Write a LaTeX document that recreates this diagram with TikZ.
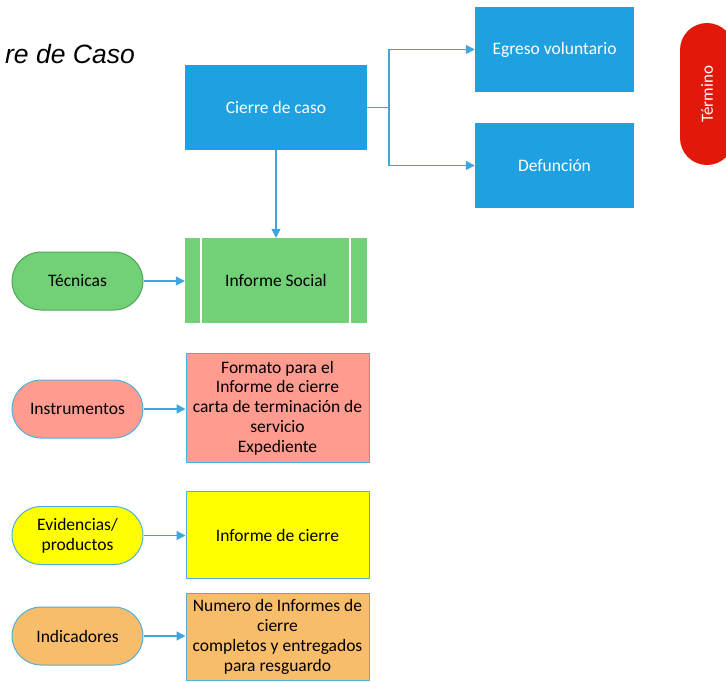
\documentclass[tikz,border=0pt]{standalone}
\usepackage{fontspec}
\setmainfont{Carlito}
\newfontfamily\titlefont{Liberation Sans}
\usetikzlibrary{arrows.meta,shapes.misc}
\definecolor{procblue}{HTML}{1FA0E0}
\definecolor{linkblue}{HTML}{3EA6DC}
\definecolor{edgeblue}{HTML}{4FB0E0}
\definecolor{techgreen}{HTML}{72D077}
\definecolor{techedge}{HTML}{4FA556}
\definecolor{salmon}{HTML}{FF9B8F}
\definecolor{lemon}{HTML}{FFFF00}
\definecolor{apricot}{HTML}{F8BD6A}
\definecolor{endred}{HTML}{E2180A}
\tikzset{
  x=1pt, y=-1pt,
  proc/.style={draw=none, fill=procblue, text=white, font=\fontsize{17.5}{20}\selectfont,
    minimum width=#1, inner sep=0pt},
  box/.style={draw=edgeblue, line width=1pt, text=black, align=center,
    font=\fontsize{17.5}{19.8}\selectfont, inner sep=0pt},
  pill/.style={rounded rectangle, draw=edgeblue, line width=1pt, text=black, align=center,
    minimum width=131pt, minimum height=58pt, inner sep=0pt,
    font=\fontsize{17.5}{20}\selectfont},
  link/.style={draw=linkblue, line width=1.4pt, -{Triangle[length=9pt,width=9pt]}},
}
\begin{document}
\begin{tikzpicture}
\useasboundingbox (0,0) rectangle (726,681);
\begin{scope}
\clip (0,0) rectangle (726,681);

% heading
\node[anchor=base east, inner sep=0pt, font=\titlefont\itshape\fontsize{26.5}{30}\selectfont]
  (title) at (135,63) {re de Caso};

% main process column
\node[proc=182pt, minimum height=85pt] (cierre) at (276,107.5) {Cierre de caso};
\node[proc=159pt, minimum height=85pt] (egreso) at (554.5,49.5) {Egreso voluntario};
\node[proc=159pt, minimum height=85pt] (defun) at (554.5,165.5) {Defunción};

% closing terminator
\node[rounded rectangle, fill=endred, minimum width=142pt, minimum height=54pt,
  rotate=90, inner sep=0pt, text=white, font=\fontsize{17}{20}\selectfont]
  (termino) at (707,94) {Término};

% predefined process: social report
\node[fill=techgreen, minimum width=182pt, minimum height=85pt, inner sep=0pt,
  font=\fontsize{17.5}{20}\selectfont] (social) at (276,280.5) {Informe Social};
\draw[white, line width=1.5pt] (201,238) -- (201,323) (350,238) -- (350,323);

% resource boxes
\node[box, fill=salmon, minimum width=183pt, minimum height=109pt] (instbox) at (277.5,408)
  {Formato para el\\Informe de cierre\\carta de terminación de\\servicio\\Expediente};
\node[box, fill=lemon, minimum width=183pt, minimum height=87pt] (evbox) at (277.5,535)
  {Informe de cierre};
\node[box, fill=apricot, minimum width=183pt, minimum height=87pt] (indbox) at (277.5,637)
  {Numero de Informes de\\cierre\\completos y entregados\\para resguardo};

% category pills
\node[pill, fill=techgreen, draw=techedge] (tec) at (77.5,281) {Técnicas};
\node[pill, fill=salmon] (inst) at (77.5,409) {Instrumentos};
\node[pill, fill=lemon] (evid) at (77.5,535.5) {Evidencias/\\productos};
\node[pill, fill=apricot] (ind) at (77.5,636) {Indicadores};

% connectors
\coordinate (fork) at (389,107.5);
\draw[draw=linkblue, line width=1.4pt] (cierre.east) -- (fork);
\draw[link] (fork) |- (egreso.west);
\draw[link] (fork) |- (defun.west);
\draw[link] (cierre.south) -- (social.north);
\draw[link] (tec.east) -- (tec.east -| social.west);
\draw[link] (inst.east) -- (inst.east -| instbox.west);
\draw[link] (evid.east) -- (evid.east -| evbox.west);
\draw[link] (ind.east) -- (ind.east -| indbox.west);
\end{scope}
\end{tikzpicture}
\end{document}
